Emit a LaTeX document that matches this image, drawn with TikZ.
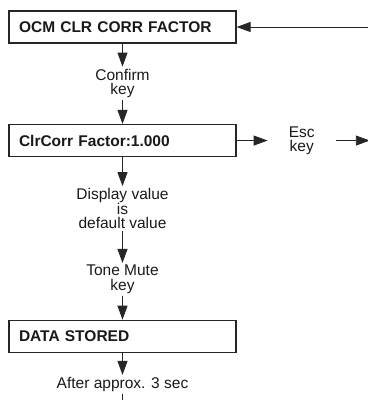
\documentclass[tikz,border=0pt]{standalone}
\usepackage{fontspec}
\setmainfont{Liberation Sans}
\usetikzlibrary{arrows.meta,positioning}
\tikzset{
  screen/.style={draw=black!85,line width=1.2bp,text width=207bp,inner xsep=10bp,minimum height=32bp,align=left,text=black!90,font=\fontsize{15.5bp}{16bp}\selectfont\bfseries},
  keytext/.style={align=center,inner sep=2bp,text=black!90,font=\fontsize{15.5bp}{14.5bp}\selectfont},
  arrow/.style={-{Triangle[length=14bp,width=10bp]},line width=0.9bp,draw=black!85}
}

\begin{document}
\begin{tikzpicture}[node distance=24bp]
  \useasboundingbox (0,0) rectangle (368bp,-400bp);
  \node[screen] (ocm) at (122.5bp,-27bp) {OCM CLR CORR FACTOR};
  \node[keytext,below=23bp of ocm] (confirm) {Confirm\\key};
  \node[screen,below=24bp of confirm] (factor) {ClrCorr Factor:1.000};
  \node[keytext,right=31bp of factor,inner xsep=21bp] (esc) {Esc\\key};
  \node[keytext,below=29bp of factor] (default) {Display value\\is\\default value};
  \node[keytext,below=32bp of default] (mute) {Tone Mute\\key};
  \node[screen,below=24bp of mute] (stored) {DATA STORED};
  \node[keytext,below=22bp of stored] (after) {After approx. 3 sec};
  \coordinate[right=132bp of ocm.east] (back);
  \coordinate[right=34bp of esc.east |- factor.east] (exit);
  \coordinate (next) at (after.south |- 0,-400bp);
  \draw[arrow] (back) -- (ocm.east);
  \draw[arrow] (ocm) -- (confirm);
  \draw[arrow] (confirm) -- (factor);
  \draw[arrow] (factor.east) -- (factor.east -| esc.west);
  \draw[arrow] (esc.east |- factor.east) -- (exit);
  \draw[arrow] (factor) -- (default);
  \draw[arrow] (default) -- (mute);
  \draw[arrow] (mute) -- (stored);
  \draw[arrow] (stored) -- (after);
  \draw[line width=0.9bp,draw=black!85] (after) -- (next);
\end{tikzpicture}
\end{document}
